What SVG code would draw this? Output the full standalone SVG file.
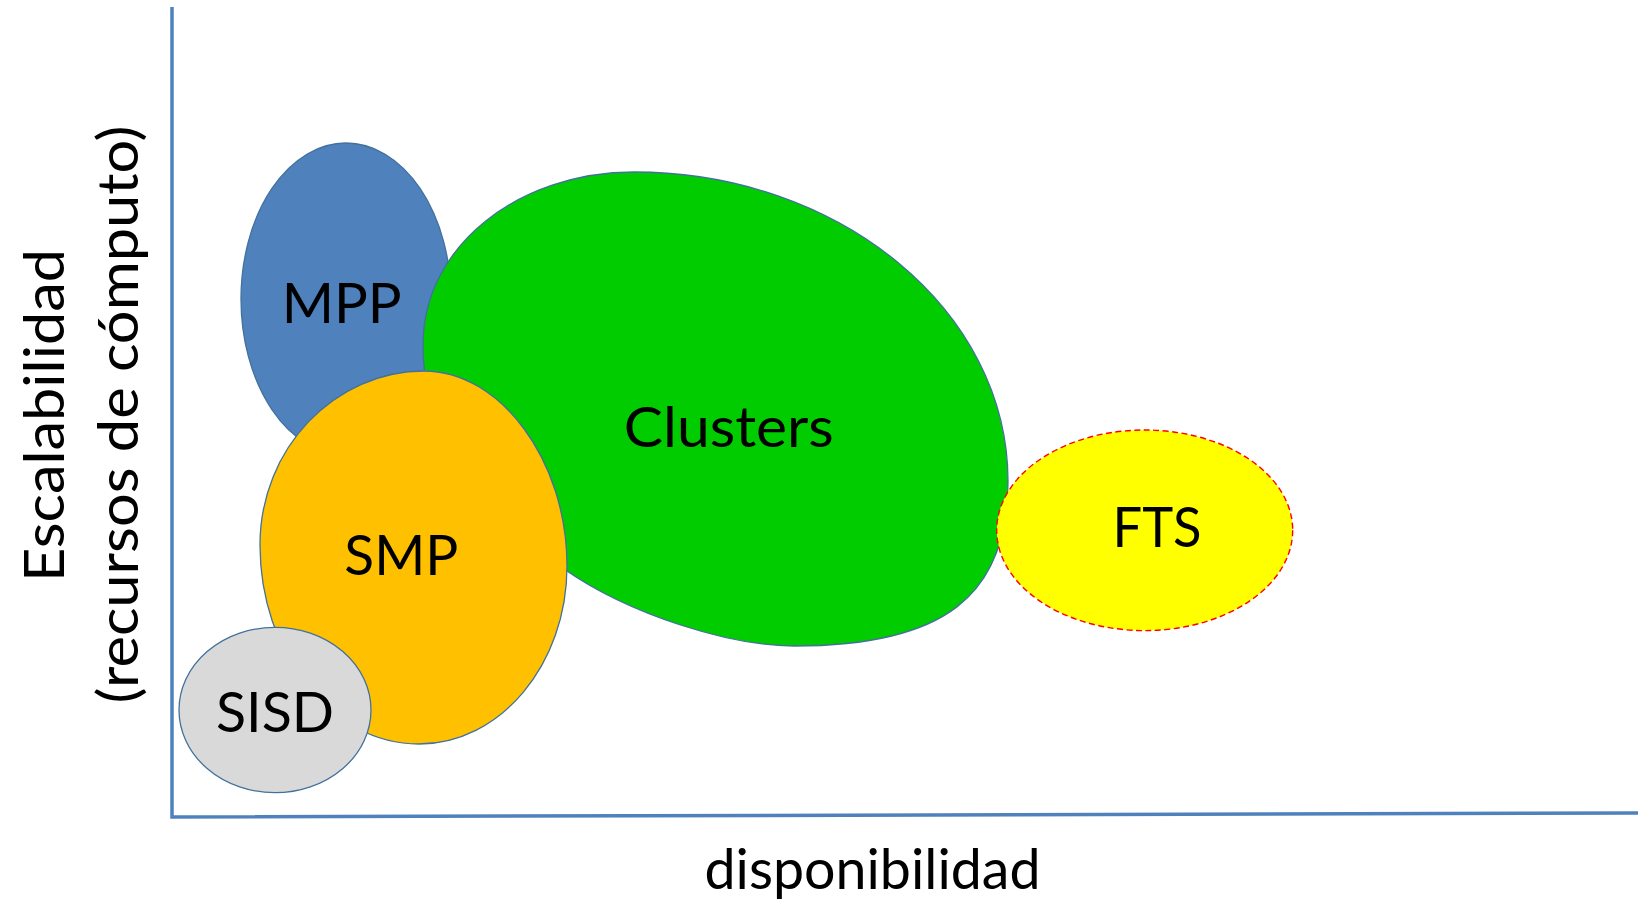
<svg xmlns="http://www.w3.org/2000/svg" width="1638" height="899" viewBox="0 0 1638 899">
<style>
.shape{stroke:#41719c;stroke-width:1.3}
.lbl{font-family:Lato,"Open Sans","Liberation Sans",sans-serif;font-size:56px;fill:#000;text-anchor:middle}
.axis{stroke:#4f81bd;stroke-width:3.5;fill:none}
</style>
<rect width="1638" height="899" fill="#ffffff"/>
<g id="axes">
<path class="axis" d="M172,7 L172,817 L1638,813"/>
</g>
<g id="node-mpp">
<ellipse class="shape" cx="346" cy="299" rx="105" ry="156" fill="#4f81bd"/>
<text class="lbl" x="341.7" y="323.3" textLength="120" lengthAdjust="spacingAndGlyphs">MPP</text>
</g>
<g id="node-clusters">
<path class="shape" fill="#00cc00" d="M634,172 C840,172 1008,311 1008,481 C1008,596 944,646 794,646 C730,646 630,615 564,569 C470,505 423,430 423,345 C423,245 520,172 634,172 Z"/>
<text class="lbl" x="728.8" y="446.7" textLength="210" lengthAdjust="spacingAndGlyphs">Clusters</text>
</g>
<g id="node-smp">
<path class="shape" fill="#ffc000" d="M424,371 C500,371 567,460 567,566 C567,665 500,744 419,744 C330,744 260,652 260,545 C260,448 335,371 424,371 Z"/>
<text class="lbl" x="401.3" y="575" textLength="114" lengthAdjust="spacingAndGlyphs">SMP</text>
</g>
<g id="node-sisd">
<ellipse class="shape" cx="275" cy="710" rx="96" ry="82.7" fill="#d9d9d9"/>
<text class="lbl" x="275" y="731.7" textLength="118" lengthAdjust="spacingAndGlyphs">SISD</text>
</g>
<g id="node-fts">
<ellipse cx="1144.7" cy="530.3" rx="148" ry="100.3" fill="#ffff00" stroke="#ff0000" stroke-width="1.4" stroke-dasharray="6,3.5"/>
<text class="lbl" x="1157" y="547.3" textLength="89" lengthAdjust="spacingAndGlyphs">FTS</text>
</g>
<g id="axis-labels">
<text class="lbl" x="872.5" y="889" textLength="336" lengthAdjust="spacingAndGlyphs">disponibilidad</text>
<text class="lbl" transform="translate(64,415.5) rotate(-90)" x="0" y="0" textLength="333" lengthAdjust="spacingAndGlyphs">Escalabilidad</text>
<text class="lbl" transform="translate(138,414.5) rotate(-90)" x="0" y="0" textLength="578" lengthAdjust="spacingAndGlyphs">(recursos de cómputo)</text>
</g>
</svg>
